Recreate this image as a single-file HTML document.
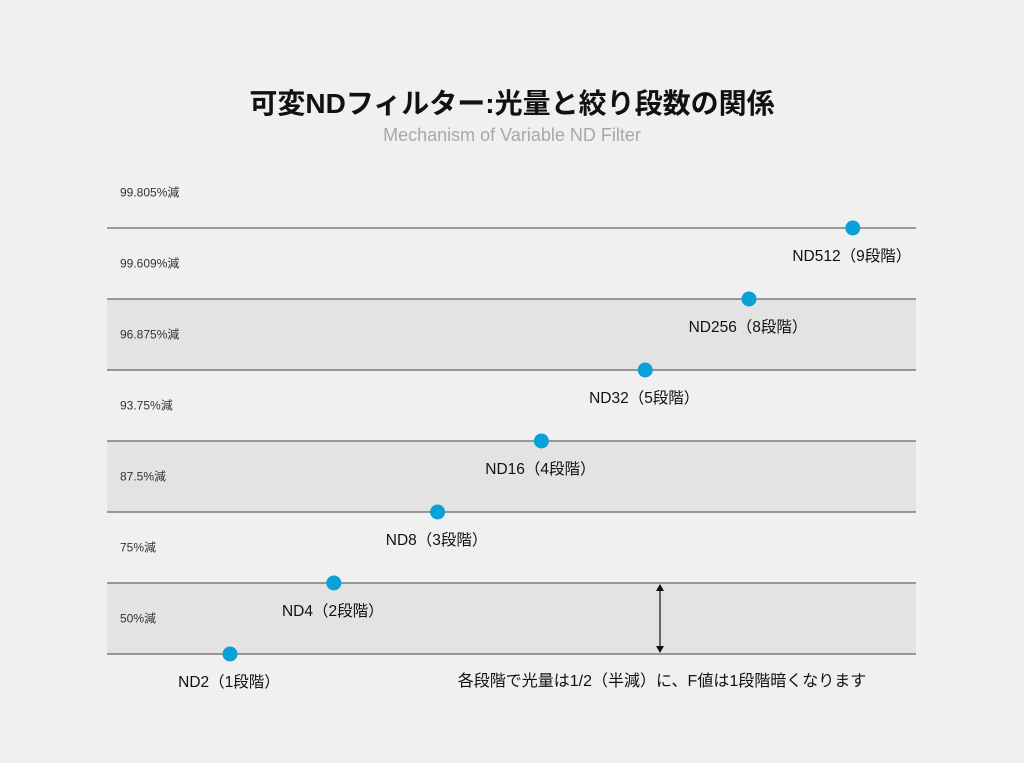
<!DOCTYPE html>
<html><head><meta charset="utf-8">
<style>
body{margin:0;background:#f0f0f0;}
svg{display:block;font-family:"Liberation Sans","Noto Sans CJK JP",sans-serif;}
</style></head>
<body>
<svg id="c" width="1024" height="763">
<rect width="1024" height="763" fill="#f0f0f0"/>
<text x="512" y="113" text-anchor="middle" font-size="28" font-weight="bold" fill="#111">可変NDフィルター:光量と絞り段数の関係</text>
<text x="512" y="141" text-anchor="middle" font-size="18" fill="#a8a8a8">Mechanism of Variable ND Filter</text>
<g id="bands"></g><g id="lines"></g><g id="rowlabels"></g><g id="pts"></g>
<line x1="660" y1="588" x2="660" y2="649" stroke="#111" stroke-width="1.2"/>
<path d="M656,591 L660,584 L664,591 Z M656,646 L660,653 L664,646 Z" fill="#111"/>
<text x="662" y="686" text-anchor="middle" font-size="16" fill="#111">各段階で光量は1/2（半減）に、F値は1段階暗くなります</text>
</svg>
<script>
const rowLabels=["50%減","75%減","87.5%減","93.75%減","96.875%減","99.609%減","99.805%減"];
const pointNames=["ND2（1段階）","ND4（2段階）","ND8（3段階）","ND16（4段階）","ND32（5段階）","ND256（8段階）","ND512（9段階）"];
const pointLevels=[0,1,2,3,4,5,6];
const NS="http://www.w3.org/2000/svg";
const y0=654,rowH=71,x0=107,x1=916;
const yS=i=>y0-rowH*i;
const xS=i=>230+103.8*i;
function mk(t,a,p){const e=document.createElementNS(NS,t);for(const k in a)e.setAttribute(k,a[k]);p.appendChild(e);return e;}
const bands=document.getElementById('bands'),lines=document.getElementById('lines'),rl=document.getElementById('rowlabels'),pts=document.getElementById('pts');
rowLabels.forEach((lab,i)=>{
  if(i%2===0 && i<rowLabels.length-1){const b=mk('rect',{x:x0,y:yS(i+1),width:x1-x0,height:rowH,fill:'#e3e3e3'},bands);
  
  }
  const t=mk('text',{x:120,y:(yS(i)+yS(i+1))/2+4,'font-size':12,fill:'#333'},rl);t.textContent=lab;
  
  
});
for(let i=0;i<7;i++){const l=mk('line',{x1:x0,x2:x1,y1:yS(i),y2:yS(i),stroke:'#444','stroke-width':1},lines);
  
  }
pointLevels.forEach((v,i)=>{
  const c=mk('circle',{cx:xS(i),cy:yS(v),r:7.5,fill:'#0aa0d8'},pts);
  
  
  const t=mk('text',{x:xS(i)-1,y:yS(v)+33,'text-anchor':'middle','font-size':15.5,fill:'#111'},pts);t.textContent=pointNames[i];
  
  
});
</script>
</body></html>
